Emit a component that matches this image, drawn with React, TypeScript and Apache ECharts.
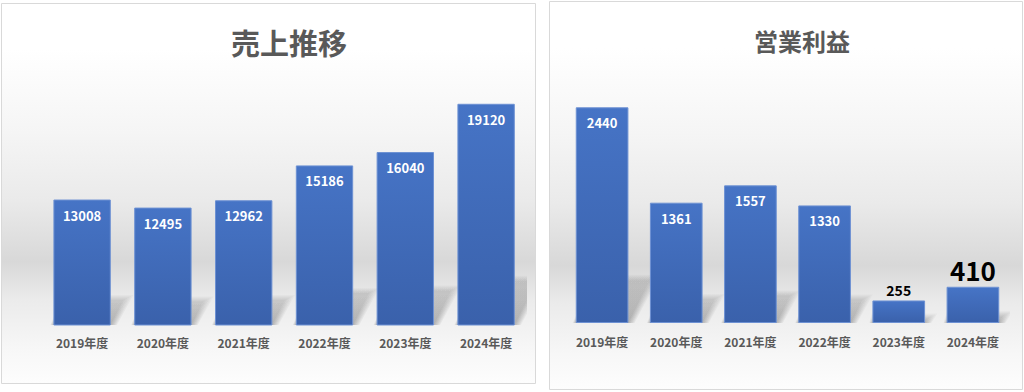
import React, { useEffect, useRef } from "react";
import * as echarts from "echarts";

const categories = ["2019年度", "2020年度", "2021年度", "2022年度", "2023年度", "2024年度"];
const salesValues = [13008, 12495, 12962, 15186, 16040, 19120];
const profitValues = [2440, 1361, 1557, 1330, 255, 410];
const salesTitle = "売上推移";
const profitTitle = "営業利益";
const salesRange = [5000, 20000];
const profitRange = [0, 2500];

const FONT = '"Noto Sans CJK JP", "Noto Sans", sans-serif';

const panelFill = () => ({
  type: "linear",
  x: 0,
  y: 0,
  x2: 0,
  y2: 1,
  colorStops: [
    { offset: 0, color: "#ffffff" },
    { offset: 0.12, color: "#ffffff" },
    { offset: 0.34, color: "#f5f5f5" },
    { offset: 0.52, color: "#eaeaea" },
    { offset: 0.68, color: "#d8d8d8" },
    { offset: 0.78, color: "#ebebeb" },
    { offset: 0.91, color: "#f7f7f7" },
    { offset: 1, color: "#fdfdfd" },
  ],
});

const barFill = () =>
  new echarts.graphic.LinearGradient(0, 0, 0, 1, [
    { offset: 0, color: "#4674c6" },
    { offset: 1, color: "#3a61ab" },
  ]);

const SHADOW_SPREAD = [0, 2, 4, 6, 8, 10];

function makeShadow(yMin: number) {
  return (_params: any, api: any) => {
    const i = api.value(0);
    const v = api.value(1);
    const b = api.coord([i, yMin]);
    const t = api.coord([i, v]);
    const w = api.size([1, 0])[0] * 0.71;
    const h = (b[1] - t[1]) * 0.2;
    const dx = h * 0.5;
    const x0 = b[0] - w / 2;
    const x1 = b[0] + w / 2;
    const y = b[1];
    const children = SHADOW_SPREAD.map((d) => ({
      type: "polygon",
      shape: {
        points: [
          [x0 - d * 0.3, y],
          [x1 + d * 0.6, y],
          [x1 + dx + d, y - h - d * 0.5],
          [x0 + dx - d * 0.3, y - h - d * 0.5],
        ],
      },
      style: {
        fill: new echarts.graphic.LinearGradient(0, 0, 0, 1, [
          { offset: 0, color: "rgba(0,0,0,0.025)" },
          { offset: 1, color: "rgba(0,0,0,0.05)" },
        ]),
      },
    }));
    return { type: "group", children };
  };
}

export default function App() {
  const ref = useRef<HTMLDivElement>(null);

  useEffect(() => {
    document.body.style.margin = "0";
    if (!ref.current) return;
    const chart = echarts.init(ref.current, null, { renderer: "svg" });

    const xLabel = {
      color: "#595959",
      fontWeight: "bold",
      fontSize: 12,
      fontFamily: FONT,
    };

    const option: any = {
      animation: false,
      textStyle: { fontFamily: FONT },
      graphic: [
        {
          type: "rect",
          z: -10,
          shape: { x: 1.5, y: 3.5, width: 534, height: 380 },
          style: { fill: panelFill(), stroke: "#d9d9d9", lineWidth: 1 },
        },
        {
          type: "rect",
          z: -10,
          shape: { x: 549.5, y: 1.5, width: 473, height: 388 },
          style: { fill: panelFill(), stroke: "#d9d9d9", lineWidth: 1 },
        },
        {
          type: "text",
          z: 10,
          x: 289,
          y: 42,
          style: {
            text: salesTitle,
            fontSize: 29,
            fontWeight: "bold",
            fontFamily: FONT,
            fill: "#595959",
            align: "center",
            verticalAlign: "middle",
          },
        },
        {
          type: "text",
          z: 10,
          x: 802,
          y: 40,
          style: {
            text: profitTitle,
            fontSize: 24,
            fontWeight: "bold",
            fontFamily: FONT,
            fill: "#595959",
            align: "center",
            verticalAlign: "middle",
          },
        },
      ],
      grid: [
        { left: 41.7, width: 484.8, top: 90, height: 235 },
        { left: 565, width: 445, top: 102, height: 221 },
      ],
      xAxis: [
        {
          type: "category",
          gridIndex: 0,
          data: categories,
          axisLine: { show: false },
          axisTick: { show: false },
          axisLabel: { ...xLabel, margin: 11 },
        },
        {
          type: "category",
          gridIndex: 1,
          data: categories,
          axisLine: { show: false },
          axisTick: { show: false },
          axisLabel: { ...xLabel, margin: 12 },
        },
      ],
      yAxis: [
        { type: "value", gridIndex: 0, min: salesRange[0], max: salesRange[1], show: false, splitLine: { show: false } },
        { type: "value", gridIndex: 1, min: profitRange[0], max: profitRange[1], show: false, splitLine: { show: false } },
      ],
      series: [
        {
          type: "custom",
          xAxisIndex: 0,
          yAxisIndex: 0,
          z: 1,
          clip: true,
          silent: true,
          renderItem: makeShadow(salesRange[0]),
          data: salesValues.map((v, i) => [i, v]),
        },
        {
          type: "custom",
          xAxisIndex: 1,
          yAxisIndex: 1,
          z: 1,
          clip: true,
          silent: true,
          renderItem: makeShadow(profitRange[0]),
          data: profitValues.map((v, i) => [i, v]),
        },
        {
          type: "bar",
          xAxisIndex: 0,
          yAxisIndex: 0,
          z: 3,
          barCategoryGap: "29%",
          data: salesValues,
          itemStyle: { color: barFill(), borderColor: "#6d91d3", borderWidth: 1 },
          label: {
            show: true,
            position: "insideTop",
            distance: 9,
            color: "#ffffff",
            fontWeight: "bold",
            fontSize: 13,
            fontFamily: FONT,
          },
        },
        {
          type: "bar",
          xAxisIndex: 1,
          yAxisIndex: 1,
          z: 3,
          barCategoryGap: "29%",
          data: profitValues.map((v, i) => {
            if (i === 4) {
              return {
                value: v,
                label: { position: "top", distance: 3, color: "#000000", fontSize: 14 },
              };
            }
            if (i === 5) {
              return {
                value: v,
                label: { position: "top", distance: 4, color: "#000000", fontSize: 26 },
              };
            }
            return v;
          }),
          itemStyle: { color: barFill(), borderColor: "#6d91d3", borderWidth: 1 },
          label: {
            show: true,
            position: "insideTop",
            distance: 9,
            color: "#ffffff",
            fontWeight: "bold",
            fontSize: 13,
            fontFamily: FONT,
          },
        },
      ],
    };

    chart.setOption(option);
    return () => chart.dispose();
  }, []);

  return (
    <div
      ref={ref}
      style={{ position: "absolute", left: 0, top: 0, width: 1024, height: 392 }}
    />
  );
}
